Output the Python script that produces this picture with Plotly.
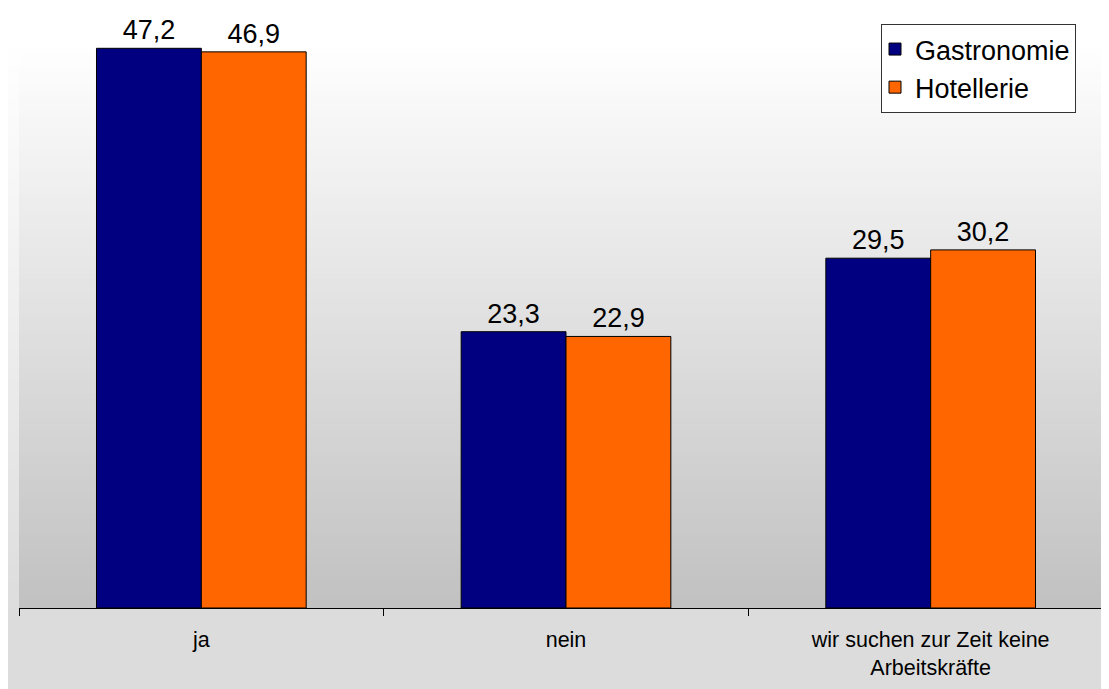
import plotly.graph_objects as go

categories = ["ja", "nein", "wir suchen zur Zeit keine<br>Arbeitskräfte"]
gastronomie = [47.2, 23.3, 29.5]
hotellerie = [46.9, 22.9, 30.2]
series_names = ["Gastronomie", "Hotellerie"]
series_colors = ["#000080", "#FF6600"]

W, H = 1109, 689
L, R, T, B = 11, 4, 34, 89
plot_w = W - L - R
plot_h = H - T - B

def px_x(p):
    return (p - L) / plot_w

def px_y(p):
    return (H - B - p) / plot_h

fig = go.Figure()
for name, vals, col in zip(series_names, [gastronomie, hotellerie], series_colors):
    fig.add_trace(go.Bar(
        x=categories, y=vals, name=name,
        marker=dict(color=col, line=dict(color="#000000", width=1)),
        texttemplate="%{y:.1f}", textposition="outside",
        outsidetextfont=dict(size=27, color="#000000", family="Liberation Sans, Arial"),
        cliponaxis=False, hoverinfo="skip",
    ))

shapes = []
N = 90
# outer chart-area gradient (white -> light gray)
for i in range(N):
    t = (i + 0.5) / N
    v = int(round(255 - (255 - 221) * t))
    shapes.append(dict(type="rect", xref="paper", yref="paper", layer="below",
                       x0=px_x(0), x1=px_x(W), y0=1 - (i + 1) / N, y1=1 - i / N + 0.002,
                       fillcolor=f"rgb({v},{v},{v})", line=dict(width=0)))
# plot-area gradient (white -> mid gray)
for i in range(N):
    t = (i + 0.5) / N
    v = int(round(255 - (255 - 193) * t))
    shapes.append(dict(type="rect", xref="paper", yref="paper", layer="below",
                       x0=0, x1=px_x(W), y0=1 - (i + 1) / N, y1=1 - i / N + 0.002,
                       fillcolor=f"rgb({v},{v},{v})", line=dict(width=0)))
# area below the axis
shapes.append(dict(type="rect", xref="paper", yref="paper", layer="below",
                   x0=px_x(0), x1=px_x(W), y0=px_y(H), y1=0,
                   fillcolor="#dcdcdc", line=dict(width=0)))

fig.update_layout(
    width=W, height=H,
    margin=dict(l=L, r=R, t=T, b=B, pad=0),
    paper_bgcolor="#ffffff", plot_bgcolor="rgba(0,0,0,0)",
    separators=",.",
    barmode="group", bargap=0.425, bargroupgap=0,
    font=dict(family="Liberation Sans, Arial", color="#000000", size=21.5),
    showlegend=True,
    legend=dict(x=px_x(873), y=px_y(16), xanchor="left", yanchor="top",
                bgcolor="#ffffff", bordercolor="#333333", borderwidth=1,
                font=dict(size=27), traceorder="normal", itemwidth=30,
                indentation=-7),
    shapes=shapes,
    xaxis=dict(showline=True, linecolor="#000000", linewidth=1,
               ticks="outside", ticklen=7, tickcolor="#000000", tickwidth=1,
               tickson="boundaries", showgrid=False, zeroline=False,
               tickfont=dict(size=21.5), ticklabelstandoff=12, fixedrange=True),
    yaxis=dict(visible=False, range=[0, plot_h / 11.858], fixedrange=True),
)

fig.write_html("out.html")
